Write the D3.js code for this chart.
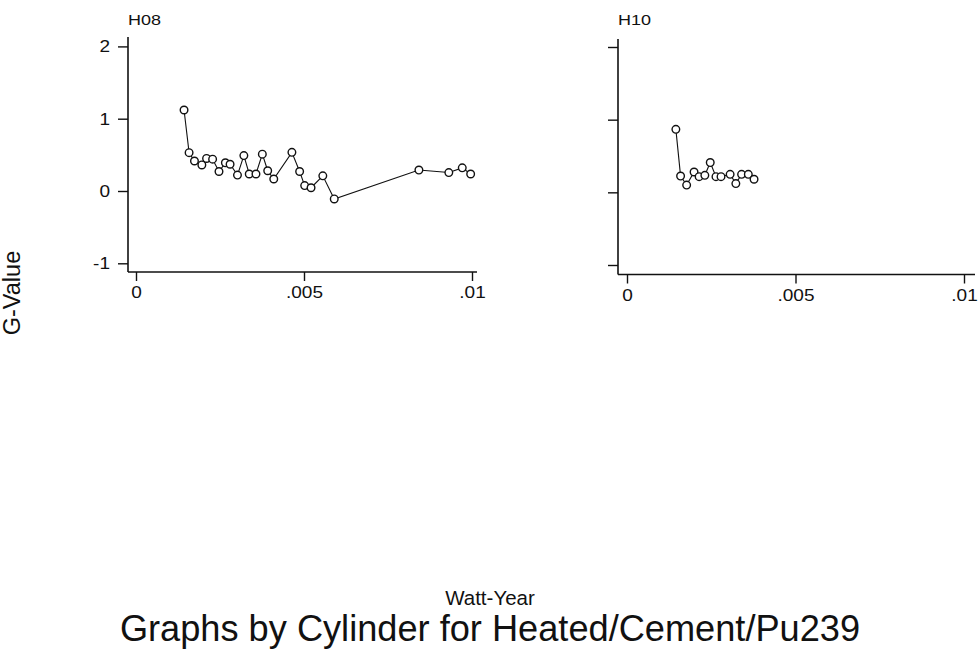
<!DOCTYPE html>
<html>
<head>
<meta charset="utf-8">
<script src="https://cdn.jsdelivr.net/npm/d3@7"></script>
<style>
  body { margin: 0; background: #fff; }
  svg { display: block; }
  text { font-family: "Liberation Sans", Arial, Helvetica, sans-serif; fill: #111; }
</style>
</head>
<body>
<svg id="chart" width="979" height="671"></svg>
<script>
// Cylinder panels
const panelNames = ["H08", "H10"];

// H08: Watt-Year vs G-Value
const h08WattYear = [0.00143, 0.00158, 0.00174, 0.00196, 0.00210, 0.00228, 0.00247, 0.00266, 0.00280,
  0.00302, 0.00321, 0.00337, 0.00357, 0.00376, 0.00392, 0.00410, 0.00464, 0.00487, 0.00502,
  0.00521, 0.00556, 0.00590, 0.00842, 0.00931, 0.00971, 0.00996];
const h08GValue = [1.12, 0.53, 0.415, 0.36, 0.45, 0.44, 0.27, 0.39, 0.37,
  0.22, 0.49, 0.235, 0.235, 0.51, 0.28, 0.166, 0.535, 0.27, 0.075,
  0.045, 0.21, -0.11, 0.29, 0.255, 0.32, 0.235];

// H10: Watt-Year vs G-Value
const h10WattYear = [0.00145, 0.00159, 0.00177, 0.00199, 0.00214, 0.00231, 0.00247, 0.00264,
  0.00279, 0.00306, 0.00323, 0.00340, 0.00360, 0.00377];
const h10GValue = [0.867, 0.224, 0.10, 0.28, 0.216, 0.234, 0.41, 0.216,
  0.216, 0.248, 0.12, 0.248, 0.248, 0.18];

const xTickValues = [0, 0.005, 0.01];
const xTickLabels = ["0", ".005", ".01"];
const yTickValues = [-1, 0, 1, 2];
const yTickLabels = ["-1", "0", "1", "2"];

const xTitle = "Watt-Year";
const yTitle = "G-Value";
const mainTitle = "Graphs by Cylinder for Heated/Cement/Pu239";

const svg = d3.select("#chart");
const TEXT_STRETCH = 1.12;   // slightly wide lettering on panel labels

// Panel frames: x range for 0..0.01, y range for -1..2, axis line extents
const frames = [
  { x0: 136, x1: 472, yLo: 263.3, yHi: 46.4, axisX: 128, axisY: 272, yTop: 37, xEnd: 477, labels: true },
  { x0: 627, x1: 964, yLo: 265.0, yHi: 47.0, axisX: 618, axisY: 274.5, yTop: 39, xEnd: 975, labels: false }
];
const series = [
  { wy: h08WattYear, g: h08GValue },
  { wy: h10WattYear, g: h10GValue }
];

frames.forEach((f, i) => {
  const x = d3.scaleLinear().domain([0, 0.01]).range([f.x0, f.x1]);
  const y = d3.scaleLinear().domain([-1, 2]).range([f.yLo, f.yHi]);
  const g = svg.append("g");

  // axis lines
  g.append("line").attr("x1", f.axisX).attr("x2", f.axisX).attr("y1", f.yTop).attr("y2", f.axisY)
    .attr("stroke", "#111").attr("stroke-width", 1.6);
  g.append("line").attr("x1", f.axisX).attr("x2", f.xEnd).attr("y1", f.axisY).attr("y2", f.axisY)
    .attr("stroke", "#111").attr("stroke-width", 1.6);

  // y axis ticks
  const yAxis = d3.axisLeft(y).tickValues(yTickValues).tickSize(10)
    .tickFormat((d, k) => f.labels ? yTickLabels[k] : "");
  const ya = g.append("g").attr("transform", `translate(${f.axisX},0)`).call(yAxis);
  ya.select(".domain").remove();
  ya.selectAll(".tick line").attr("stroke", "#111").attr("stroke-width", 1.4);
  ya.selectAll(".tick text")
    .attr("font-size", 17).attr("font-family", null)
    .attr("x", -18 / TEXT_STRETCH)
    .attr("transform", `scale(${TEXT_STRETCH},1)`);

  // x axis ticks
  const xAxis = d3.axisBottom(x).tickValues(xTickValues).tickSize(9)
    .tickFormat((d, k) => xTickLabels[k]);
  const xa = g.append("g").attr("transform", `translate(0,${f.axisY})`).call(xAxis);
  xa.select(".domain").remove();
  xa.selectAll(".tick line").attr("stroke", "#111").attr("stroke-width", 1.4);
  xa.selectAll(".tick text")
    .attr("font-size", 17).attr("font-family", null)
    .attr("y", 14).attr("dy", "0.71em")
    .attr("transform", `scale(${TEXT_STRETCH},1)`);
  xa.selectAll("text").attr("fill", "#111");
  ya.selectAll("text").attr("fill", "#111");

  // panel title
  g.append("text")
    .attr("transform", `translate(${f.axisX},25) scale(1.2,1)`)
    .attr("font-size", 15)
    .text(panelNames[i]);

  // connected series
  const s = series[i];
  const pts = s.wy.map((v, k) => [v, s.g[k]]);
  g.append("path")
    .datum(pts)
    .attr("fill", "none")
    .attr("stroke", "#111")
    .attr("stroke-width", 1.1)
    .attr("d", d3.line().x(d => x(d[0])).y(d => y(d[1])));
  g.selectAll("circle.pt")
    .data(pts)
    .join("circle")
    .attr("class", "pt")
    .attr("cx", d => x(d[0]))
    .attr("cy", d => y(d[1]))
    .attr("r", 3.8)
    .attr("fill", "#fff")
    .attr("stroke", "#111")
    .attr("stroke-width", 1.4);
});

// shared titles
svg.append("text")
  .attr("transform", "translate(20,293) rotate(-90)")
  .attr("text-anchor", "middle")
  .attr("font-size", 23.5)
  .text(yTitle);

svg.append("text")
  .attr("x", 490).attr("y", 605)
  .attr("text-anchor", "middle")
  .attr("font-size", 20.5)
  .text(xTitle);

svg.append("text")
  .attr("x", 490).attr("y", 641)
  .attr("text-anchor", "middle")
  .attr("font-size", 36.2)
  .text(mainTitle);
</script>
</body>
</html>
